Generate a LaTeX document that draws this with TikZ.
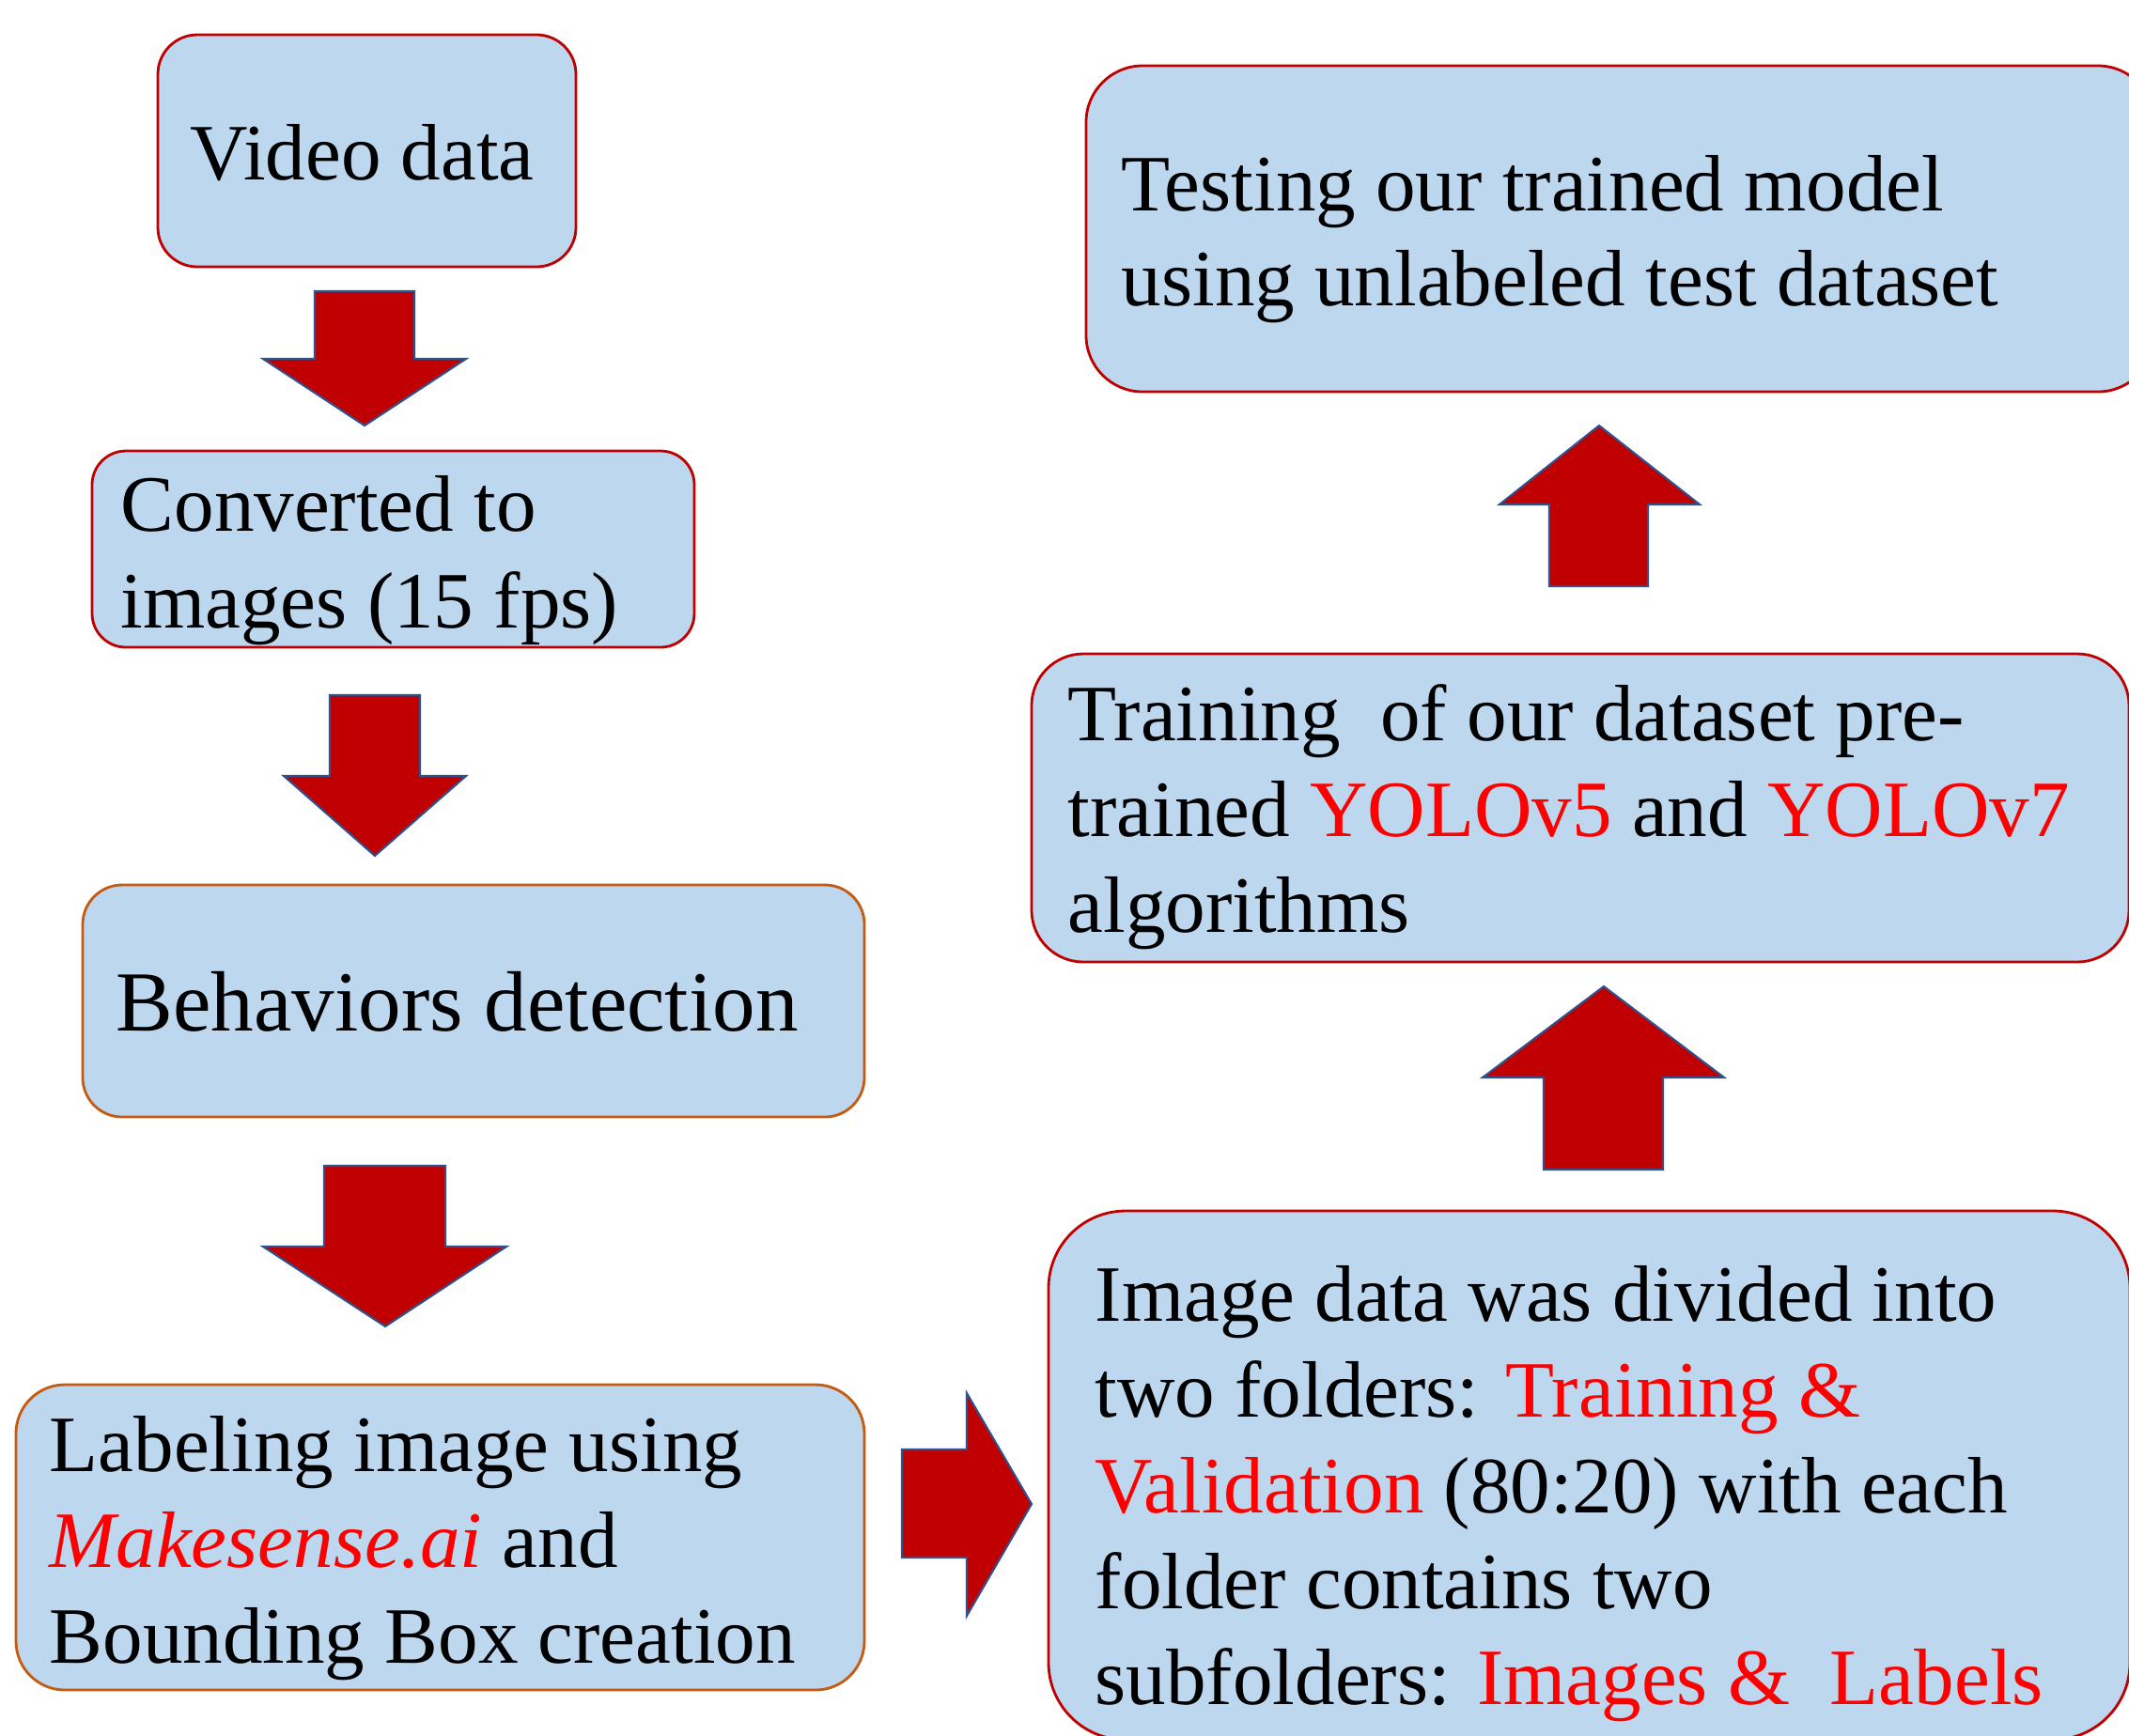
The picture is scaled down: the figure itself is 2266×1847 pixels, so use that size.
\documentclass[tikz,border=0pt]{standalone}
\usepackage{fontspec}
\setmainfont{Liberation Serif}
\usetikzlibrary{fit}
\definecolor{boxfill}{HTML}{BDD7EE}
\definecolor{boxred}{HTML}{C00000}
\definecolor{boxorange}{HTML}{C55A11}
\definecolor{arrowfill}{HTML}{C00000}
\definecolor{arrowedge}{HTML}{2F528F}
\definecolor{hl}{HTML}{FF0000}
\begin{document}
\begin{tikzpicture}[x=0.01cm,y=-0.01cm,
  box/.style={draw=boxred, line width=0.8pt, fill=boxfill, inner sep=0pt},
  orangebox/.style={box, draw=boxorange},
  txt/.style={anchor=base west, inner sep=0pt, font=\fontsize{24.2}{29}\selectfont},
  bigtxt/.style={txt, font=\fontsize{25.9}{31}\selectfont},
  blockarrow/.style={fill=arrowfill, draw=arrowedge, line width=0.6pt, line join=miter}]
\clip (0,0) rectangle (2266,1847);
\fill[white] (0,0) rectangle (2266,1847);

% boxes
\node[box, rounded corners=0.42cm, fit={(168,37)(613,284)}] (video) {};
\node[box, rounded corners=0.36cm, fit={(98,480)(739,689)}] (conv) {};
\node[orangebox, rounded corners=0.42cm, fit={(88,942)(920,1189)}] (behav) {};
\node[orangebox, rounded corners=0.52cm, fit={(17,1474)(920,1799)}] (label) {};
\node[box, rounded corners=0.82cm, fit={(1116,1289)(2267,1852)}] (split) {};
\node[box, rounded corners=0.55cm, fit={(1098,696)(2266,1024)}] (train) {};
\node[box, rounded corners=0.6cm, fit={(1156,70)(2293,417)}] (test) {};

% texts
\node[txt] (videot) at (202,191) {Video data};
\node[txt] (convt1) at (128,565) {Converted to};
\node[txt] (convt2) at (128,668) {images (15 fps)};
\node[bigtxt] (behavt) at (123,1097) {Behaviors detection};
\node[txt] (labelt1) at (52,1566) {Labeling image using};
\node[txt] (labelt2) at (52,1668) {\textcolor{hl}{\textit{Makesense.ai}} and};
\node[txt] (labelt3) at (52,1770) {Bounding Box creation};
\node[txt] (splitt1) at (1165,1406) {Image data was divided into};
\node[txt] (splitt2) at (1165,1508) {two folders: \textcolor{hl}{Training \&}};
\node[txt] (splitt3) at (1165,1610) {\textcolor{hl}{Validation} (80:20) with each};
\node[txt] (splitt4) at (1165,1712) {folder contains two};
\node[txt] (splitt5) at (1165,1814) {subfolders: \textcolor{hl}{Images \&\ \ Labels}};
\node[txt] (traint1) at (1136,788) {Training\ \ of our dataset pre-};
\node[txt] (traint2) at (1136,890) {trained \textcolor{hl}{YOLOv5} and \textcolor{hl}{YOLOv7}};
\node[txt] (traint3) at (1136,992) {algorithms};
\node[txt] (testt1) at (1193,224) {Testing our trained model};
\node[txt] (testt2) at (1193,325) {using unlabeled test dataset};

% block arrows
\draw[blockarrow] (335,310) -- (441,310) -- (441,382) -- (496,382) -- (388,453)
  -- (280,382) -- (335,382) -- cycle;
\draw[blockarrow] (351,740) -- (447,740) -- (447,826) -- (496,826) -- (399,911)
  -- (302,826) -- (351,826) -- cycle;
\draw[blockarrow] (345,1241) -- (474,1241) -- (474,1327) -- (539,1327) -- (410,1412)
  -- (280,1327) -- (345,1327) -- cycle;
\draw[blockarrow] (960,1543) -- (1029,1543) -- (1029,1483) -- (1098,1601)
  -- (1029,1720) -- (1029,1658) -- (960,1658) -- cycle;
\draw[blockarrow] (1643,1245) -- (1770,1245) -- (1770,1147) -- (1835,1147) -- (1707,1050)
  -- (1578,1147) -- (1643,1147) -- cycle;
\draw[blockarrow] (1649,624) -- (1754,624) -- (1754,537) -- (1809,537) -- (1702,453)
  -- (1596,537) -- (1649,537) -- cycle;
\end{tikzpicture}
\end{document}
